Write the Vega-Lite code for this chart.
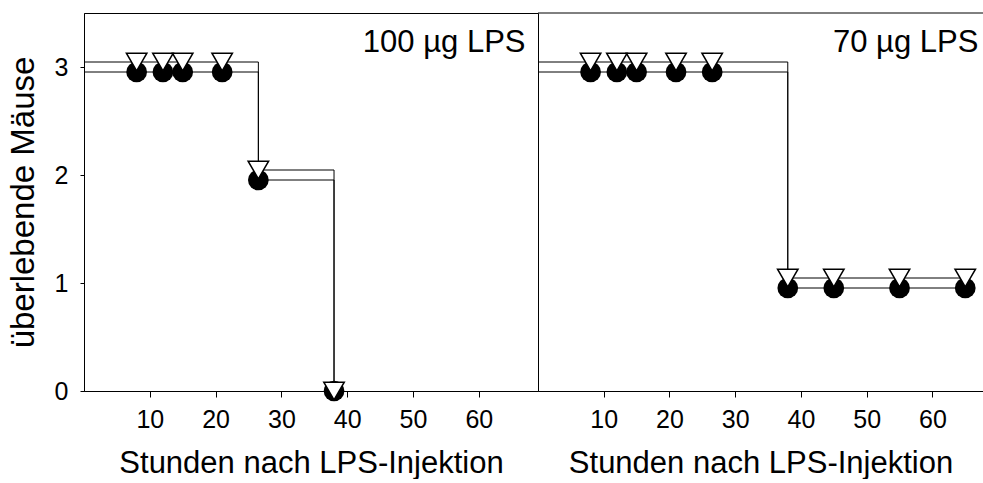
{
  "$schema": "https://vega.github.io/schema/vega-lite/v6.json",
  "padding": {"left": 6, "top": 12, "right": 0, "bottom": 0},
  "background": "white",
  "spacing": 0,
  "bounds": "flush",
  "config": {
    "font": "Liberation Sans",
    "view": {"stroke": null},
    "axis": {
      "grid": false,
      "domainColor": "black",
      "tickColor": "black",
      "labelColor": "black",
      "titleColor": "black",
      "labelFont": "Liberation Sans",
      "titleFont": "Liberation Sans",
      "labelFontSize": 25,
      "titleFontSize": 31,
      "titleFontWeight": "normal",
      "domainWidth": 1,
      "tickWidth": 1
    }
  },
  "datasets": {
    "curves": [
      {"dose": "100", "group": "A", "t": 0, "n": 3},
      {"dose": "100", "group": "A", "t": 26.5, "n": 2},
      {"dose": "100", "group": "A", "t": 38, "n": 0},
      {"dose": "100", "group": "B", "t": 0, "n": 3},
      {"dose": "100", "group": "B", "t": 26.5, "n": 2},
      {"dose": "100", "group": "B", "t": 38, "n": 0},
      {"dose": "70", "group": "A", "t": 0, "n": 3},
      {"dose": "70", "group": "A", "t": 38, "n": 1},
      {"dose": "70", "group": "A", "t": 65, "n": 1},
      {"dose": "70", "group": "B", "t": 0, "n": 3},
      {"dose": "70", "group": "B", "t": 38, "n": 1},
      {"dose": "70", "group": "B", "t": 65, "n": 1}
    ],
    "points": [
      {"dose": "100", "group": "A", "t": 8, "n": 3},
      {"dose": "100", "group": "A", "t": 12, "n": 3},
      {"dose": "100", "group": "A", "t": 15, "n": 3},
      {"dose": "100", "group": "A", "t": 21, "n": 3},
      {"dose": "100", "group": "A", "t": 26.5, "n": 2},
      {"dose": "100", "group": "A", "t": 38, "n": 0},
      {"dose": "100", "group": "B", "t": 8, "n": 3},
      {"dose": "100", "group": "B", "t": 12, "n": 3},
      {"dose": "100", "group": "B", "t": 15, "n": 3},
      {"dose": "100", "group": "B", "t": 21, "n": 3},
      {"dose": "100", "group": "B", "t": 26.5, "n": 2},
      {"dose": "100", "group": "B", "t": 38, "n": 0},
      {"dose": "70", "group": "A", "t": 8, "n": 3},
      {"dose": "70", "group": "A", "t": 12, "n": 3},
      {"dose": "70", "group": "A", "t": 15, "n": 3},
      {"dose": "70", "group": "A", "t": 21, "n": 3},
      {"dose": "70", "group": "A", "t": 26.5, "n": 3},
      {"dose": "70", "group": "A", "t": 38, "n": 1},
      {"dose": "70", "group": "A", "t": 45, "n": 1},
      {"dose": "70", "group": "A", "t": 55, "n": 1},
      {"dose": "70", "group": "A", "t": 65, "n": 1},
      {"dose": "70", "group": "B", "t": 8, "n": 3},
      {"dose": "70", "group": "B", "t": 12, "n": 3},
      {"dose": "70", "group": "B", "t": 15, "n": 3},
      {"dose": "70", "group": "B", "t": 21, "n": 3},
      {"dose": "70", "group": "B", "t": 26.5, "n": 3},
      {"dose": "70", "group": "B", "t": 38, "n": 1},
      {"dose": "70", "group": "B", "t": 45, "n": 1},
      {"dose": "70", "group": "B", "t": 55, "n": 1},
      {"dose": "70", "group": "B", "t": 65, "n": 1}
    ],
    "labels": [
      {"dose": "100", "label": "100 µg LPS"},
      {"dose": "70", "label": "70 µg LPS"}
    ]
  },
  "hconcat": [
    {
      "width": 454,
      "height": 378,
      "view": {"stroke": "black", "strokeWidth": 1},
      "layer": [
        {"data": {"name": "curves"}, "transform": [{"filter": "datum.dose == '100' && datum.group == 'A'"}],
         "mark": {"type": "line", "interpolate": "step-after", "color": "black", "strokeWidth": 1, "yOffset": 5},
         "encoding": {
           "x": {"field": "t", "type": "quantitative", "title": "Stunden nach LPS-Injektion",
                 "scale": {"domain": [0, 69], "nice": false, "zero": false},
                 "axis": {"values": [10, 20, 30, 40, 50, 60], "format": "d", "tickSize": 6, "labelPadding": 10, "titlePadding": 16}},
           "y": {"field": "n", "type": "quantitative", "title": "überlebende Mäuse",
                 "scale": {"domain": [0, 3.5], "nice": false, "zero": false},
                 "axis": {"values": [0, 1, 2, 3], "format": "d", "tickSize": 4, "labelPadding": 12, "titlePadding": 14, "titleFontSize": 33}}
         }},
        {"data": {"name": "curves"}, "transform": [{"filter": "datum.dose == '100' && datum.group == 'B'"}],
         "mark": {"type": "line", "interpolate": "step-after", "color": "black", "strokeWidth": 1, "yOffset": -5},
         "encoding": {"x": {"field": "t", "type": "quantitative"}, "y": {"field": "n", "type": "quantitative"}}},
        {"data": {"name": "points"}, "transform": [{"filter": "datum.dose == '100' && datum.group == 'A' && datum.n > 0"}],
         "mark": {"type": "point", "shape": "circle", "filled": true, "color": "black", "size": 430, "opacity": 1, "yOffset": 5},
         "encoding": {"x": {"field": "t", "type": "quantitative"}, "y": {"field": "n", "type": "quantitative"}}},
        {"data": {"name": "points"}, "transform": [{"filter": "datum.dose == '100' && datum.group == 'A' && datum.n == 0"}],
         "mark": {"type": "point", "shape": "circle", "filled": true, "color": "black", "size": 430, "opacity": 1},
         "encoding": {"x": {"field": "t", "type": "quantitative"}, "y": {"field": "n", "type": "quantitative"}}},
        {"data": {"name": "points"}, "transform": [{"filter": "datum.dose == '100' && datum.group == 'B' && datum.n > 0"}],
         "mark": {"type": "point", "shape": "triangle-down", "fill": "white", "stroke": "black", "strokeWidth": 1.5, "size": 420, "opacity": 1, "yOffset": -5},
         "encoding": {"x": {"field": "t", "type": "quantitative"}, "y": {"field": "n", "type": "quantitative"}}},
        {"data": {"name": "points"}, "transform": [{"filter": "datum.dose == '100' && datum.group == 'B' && datum.n == 0"}],
         "mark": {"type": "point", "shape": "triangle-down", "fill": "white", "stroke": "black", "strokeWidth": 1.5, "size": 420, "opacity": 1},
         "encoding": {"x": {"field": "t", "type": "quantitative"}, "y": {"field": "n", "type": "quantitative"}}},
        {"data": {"name": "labels"}, "transform": [{"filter": "datum.dose == '100'"}],
         "mark": {"type": "text", "align": "right", "baseline": "alphabetic", "fontSize": 31, "font": "Liberation Sans", "color": "black"},
         "encoding": {"x": {"datum": 67.1}, "y": {"datum": 3.14}, "text": {"field": "label"}}}
      ]
    },
    {
      "width": 445,
      "height": 378,
      "layer": [
        {"data": {"name": "curves"}, "transform": [{"filter": "datum.dose == '70' && datum.group == 'A'"}],
         "mark": {"type": "line", "interpolate": "step-after", "color": "black", "strokeWidth": 1, "yOffset": 5},
         "encoding": {
           "x": {"field": "t", "type": "quantitative", "title": "Stunden nach LPS-Injektion",
                 "scale": {"domain": [0, 67.7], "nice": false, "zero": false},
                 "axis": {"values": [10, 20, 30, 40, 50, 60], "format": "d", "tickSize": 6, "labelPadding": 10, "titlePadding": 16}},
           "y": {"field": "n", "type": "quantitative",
                 "scale": {"domain": [0, 3.5], "nice": false, "zero": false},
                 "axis": null}
         }},
        {"data": {"name": "curves"}, "transform": [{"filter": "datum.dose == '70' && datum.group == 'B'"}],
         "mark": {"type": "line", "interpolate": "step-after", "color": "black", "strokeWidth": 1, "yOffset": -5},
         "encoding": {"x": {"field": "t", "type": "quantitative"}, "y": {"field": "n", "type": "quantitative"}}},
        {"data": {"name": "points"}, "transform": [{"filter": "datum.dose == '70' && datum.group == 'A'"}],
         "mark": {"type": "point", "shape": "circle", "filled": true, "color": "black", "size": 430, "opacity": 1, "yOffset": 5},
         "encoding": {"x": {"field": "t", "type": "quantitative"}, "y": {"field": "n", "type": "quantitative"}}},
        {"data": {"name": "points"}, "transform": [{"filter": "datum.dose == '70' && datum.group == 'B'"}],
         "mark": {"type": "point", "shape": "triangle-down", "fill": "white", "stroke": "black", "strokeWidth": 1.5, "size": 420, "opacity": 1, "yOffset": -5},
         "encoding": {"x": {"field": "t", "type": "quantitative"}, "y": {"field": "n", "type": "quantitative"}}},
        {"data": {"name": "labels"}, "transform": [{"filter": "datum.dose == '70'"}],
         "mark": {"type": "rule", "color": "black", "strokeWidth": 1},
         "encoding": {"y": {"datum": 3.5}}},
        {"data": {"name": "labels"}, "transform": [{"filter": "datum.dose == '70'"}],
         "mark": {"type": "text", "align": "right", "baseline": "alphabetic", "fontSize": 31, "font": "Liberation Sans", "color": "black"},
         "encoding": {"x": {"datum": 67}, "y": {"datum": 3.14}, "text": {"field": "label"}}}
      ]
    }
  ]
}
